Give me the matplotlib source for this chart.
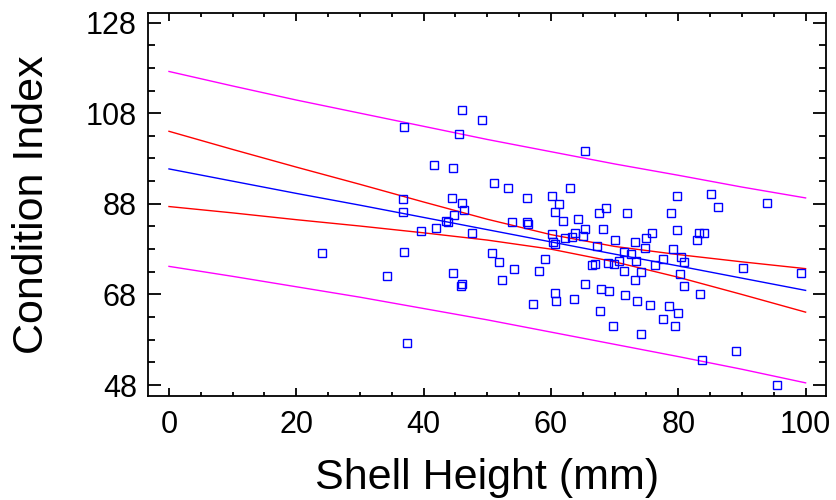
import matplotlib
matplotlib.use("Agg")
import matplotlib.pyplot as plt
from matplotlib.ticker import FixedLocator, MultipleLocator

plt.rcParams['font.family'] = ['Liberation Sans', 'DejaVu Sans']

# observed points: shell height (mm), condition index
shell_h = [24.1, 34.3, 36.8, 36.9, 36.8, 36.9, 37.4, 39.6, 41.6, 42.0,
           43.5, 43.9, 44.4, 44.6, 44.6, 44.8, 45.5, 46.0, 46.0, 46.3,
           46.0, 45.9, 47.6, 49.2, 50.7, 51.1, 51.9, 52.3, 53.3, 53.9,
           54.2, 56.2, 56.2, 56.4, 57.2, 58.1, 59.0, 60.2, 60.7, 60.2,
           60.4, 60.7, 60.7, 60.8, 61.2, 61.9, 62.2, 63.0, 63.3, 63.8,
           63.6, 64.3, 65.0, 65.3, 65.3, 65.3, 66.4, 66.9, 67.2, 67.5,
           67.7, 67.9, 68.1, 68.7, 69.0, 69.9, 70.7, 69.1, 69.7, 70.1,
           71.4, 72.5, 71.4, 71.7, 71.9, 73.2, 73.4, 73.2, 73.5, 74.2,
           74.1, 74.7, 74.9, 75.6, 75.9, 76.3, 77.6, 77.6, 78.6, 78.8,
           79.2, 79.5, 79.8, 79.8, 80.0, 80.3, 80.5, 80.9, 80.9, 83.0,
           83.2, 84.0, 83.4, 83.8, 85.2, 86.3, 89.1, 90.1, 93.9, 95.5,
           99.2]
cond_idx = [77.2, 72.0, 89.0, 104.9, 86.2, 77.4, 57.2, 81.9, 96.6, 82.7,
            84.1, 83.9, 89.3, 96.0, 72.8, 85.6, 103.5, 108.8, 88.2, 86.7,
            70.4, 69.9, 81.6, 106.6, 77.1, 92.7, 75.1, 71.3, 91.5, 83.9,
            73.6, 89.3, 83.9, 83.6, 65.9, 73.1, 75.9, 89.8, 86.2, 81.4,
            79.6, 79.1, 68.4, 66.6, 87.9, 84.2, 80.4, 91.5, 80.7, 81.5,
            67.0, 84.7, 80.9, 99.7, 82.4, 70.2, 74.4, 74.8, 78.7, 85.9,
            64.3, 69.1, 82.4, 87.0, 75.0, 74.7, 75.3, 68.8, 61.1, 80.0,
            77.3, 77.0, 73.2, 67.9, 85.9, 79.6, 75.3, 71.3, 66.5, 59.2,
            73.0, 78.3, 80.5, 65.6, 81.6, 74.5, 75.9, 62.5, 65.4, 85.9,
            78.0, 61.1, 89.8, 82.2, 63.9, 72.5, 76.3, 75.1, 69.9, 80.1,
            81.6, 81.6, 68.2, 53.5, 90.1, 87.2, 55.5, 73.8, 88.1, 48.0,
            72.8]

band_x = [0, 10, 20, 30, 40, 50, 60, 70, 80, 90, 100]
fit_y = [95.7, 93.0, 90.3, 87.7, 85.0, 82.3, 79.6, 76.9, 74.3, 71.6, 68.9]
conf_hi = [104.0, 100.0, 96.1, 92.3, 88.4, 84.6, 81.2, 78.6, 76.8, 75.2, 73.7]
conf_lo = [87.4, 86.0, 84.5, 83.1, 81.6, 80.0, 78.0, 75.2, 71.8, 68.0, 64.1]
pred_hi = [117.2, 114.0, 110.9, 108.0, 105.1, 102.2, 99.5, 96.8, 94.3, 91.7, 89.3]
pred_lo = [74.2, 72.0, 69.7, 67.4, 64.9, 62.4, 59.7, 57.0, 54.3, 51.5, 48.5]

x_ticks = [0, 20, 40, 60, 80, 100]
y_ticks = [48, 68, 88, 108, 128]

fig = plt.figure(figsize=(8.36, 5.0), dpi=100)
ax = fig.add_axes([0.177, 0.208, 0.811, 0.766])

ax.plot(band_x, pred_hi, color='#ff00ff', lw=1.0)
ax.plot(band_x, pred_lo, color='#ff00ff', lw=1.0)
ax.plot(band_x, conf_hi, color='#ff0000', lw=1.0)
ax.plot(band_x, conf_lo, color='#ff0000', lw=1.0)
ax.plot(band_x, fit_y, color='#0000ff', lw=1.0)
ax.plot(shell_h, cond_idx, 's', mfc='none', mec='#0000ff', ms=5.8, mew=1.0)

ax.set_xlim(-3.3, 103.2)
ax.set_ylim(45.6, 130.1)
ax.set_xticks(x_ticks)
ax.set_yticks(y_ticks)
ax.xaxis.set_minor_locator(MultipleLocator(5))
ax.yaxis.set_minor_locator(FixedLocator([53, 58, 63, 73, 78, 83, 93, 98, 103, 113, 118, 123]))

ax.tick_params(axis='both', which='both', direction='in', top=True, right=True, width=1.3)
ax.tick_params(axis='x', which='major', length=6, pad=10, labelsize=22)
ax.tick_params(axis='x', which='minor', length=3)
ax.tick_params(axis='y', which='major', length=9.5, pad=8, labelsize=22)
ax.tick_params(axis='y', which='minor', length=5)
for s in ax.spines.values():
    s.set_linewidth(1.3)

ax.set_xlabel('Shell Height (mm)', fontsize=31, labelpad=13)
ax.set_ylabel('Condition Index', fontsize=31, labelpad=24)

fig.savefig('out.png', dpi=100)
